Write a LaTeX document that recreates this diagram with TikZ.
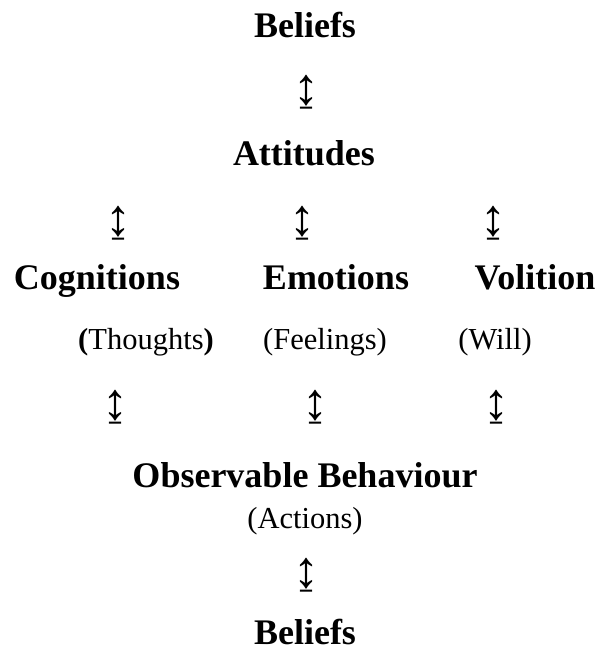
\documentclass[tikz,border=0pt]{standalone}
\usepackage{fontspec}
\setmainfont{Liberation Serif}

\begin{document}
\begin{tikzpicture}[
  x=1pt, y=-1pt,
  head/.style={font=\fontsize{36}{40}\selectfont\bfseries, anchor=base, inner sep=0pt},
  note/.style={font=\fontsize{30.5}{34}\selectfont, anchor=base, inner sep=0pt},
  updown/.style={font=\fontsize{52}{56}\selectfont, anchor=center, inner sep=0pt}
]
\useasboundingbox (0,0) rectangle (600,649);

% Top
\node[head] (beliefsA) at (305,37) {Beliefs};
\node[updown] (arrA) at (306,92) {↨};
\node[head] (attitudes) at (304,165) {Attitudes};

% Three components
\node[updown] (arrCogA) at (118,223.5) {↨};
\node[updown] (arrEmoA) at (302,223.5) {↨};
\node[updown] (arrVolA) at (493,223.5) {↨};
\node[head] (cognitions) at (97,289) {Cognitions};
\node[head] (emotions) at (336,289) {Emotions};
\node[head] (volition) at (535,289) {Volition};
\node[note] (thoughts) at (146,349) {\textbf{(}Thoughts\textbf{)}};
\node[note] (feelings) at (325,349) {(Feelings)};
\node[note] (will) at (495,349) {(Will)};
\node[updown] (arrCogB) at (115,407.5) {↨};
\node[updown] (arrEmoB) at (315,407.5) {↨};
\node[updown] (arrVolB) at (496,407.5) {↨};

% Bottom
\node[head] (behaviour) at (305,487) {Observable Behaviour};
\node[note] (actions) at (305,528) {(Actions)};
\node[updown] (arrB) at (306,575.5) {↨};
\node[head] (beliefsB) at (305,644) {Beliefs};

\end{tikzpicture}
\end{document}
